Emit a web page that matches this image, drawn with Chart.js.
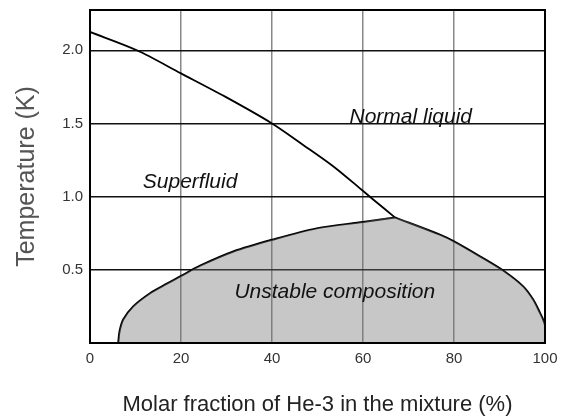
<!DOCTYPE html>
<html lang="en">
<head>
  <meta charset="UTF-8">
  <title>He-3 / He-4 phase diagram</title>
  <script src="https://cdn.jsdelivr.net/npm/chart.js"></script>
  <style>
    body { margin: 0; background: #fff; }
    canvas { display: block; }
  </style>
</head>
<body>
  <canvas id="grafico" width="563" height="419"></canvas>

  <script>
    // lambda line (superfluid / normal boundary)
    const lambdaX = [0, 10.3, 20, 29.7, 40, 47, 53.5, 59.7, 62.3, 67.0];
    const lambdaT = [2.125, 2.0, 1.842, 1.683, 1.5, 1.35, 1.206, 1.047, 0.979, 0.858];

    // phase separation curve, He-4 rich side (left) and He-3 rich side (right)
    const sepLeftX = [6.2, 6.5, 7.3, 9.5, 13.2, 16.9, 20, 24.2, 31.5, 40, 49.8, 60, 67.0];
    const sepLeftT = [0, 0.08, 0.16, 0.25, 0.34, 0.405, 0.458, 0.528, 0.625, 0.705, 0.783, 0.827, 0.858];
    const sepRightX = [67.0, 76.9, 80, 85.7, 90.8, 95.2, 97.4, 98.9, 99.6, 100, 100];
    const sepRightT = [0.858, 0.74, 0.694, 0.592, 0.495, 0.387, 0.297, 0.206, 0.16, 0.12, 0];

    const xTicks = [0, 20, 40, 60, 80, 100];
    const yTicks = [0.5, 1.0, 1.5, 2.0];

    const labelText = ['Superfluid', 'Normal liquid', 'Unstable composition'];
    const labelX = [22, 70.5, 53.8];
    const labelT = [1.10, 1.545, 0.344];

    const fuente = '"Liberation Sans", Arial, Helvetica, sans-serif';

    const etiquetas = {
      id: 'etiquetas',
      afterDatasetsDraw(chart) {
        const { ctx, chartArea, scales } = chart;
        ctx.save();
        ctx.font = 'italic 21px ' + fuente;
        ctx.fillStyle = '#111';
        ctx.textAlign = 'center';
        ctx.textBaseline = 'middle';
        labelText.forEach((t, i) => {
          ctx.fillText(t, scales.x.getPixelForValue(labelX[i]), scales.y.getPixelForValue(labelT[i]));
        });
        // marco
        ctx.strokeStyle = '#000';
        ctx.lineWidth = 2;
        ctx.strokeRect(chartArea.left, chartArea.top, chartArea.right - chartArea.left, chartArea.bottom - chartArea.top);
        ctx.restore();
      }
    };

    const curva = (xs, ts, extra) => Object.assign({
      data: xs.map((x, i) => ({ x: x, y: ts[i] })),
      showLine: true,
      borderColor: '#000',
      borderWidth: 2,
      pointRadius: 0,
      tension: 0.3,
      fill: false
    }, extra);

    const ctx = document.getElementById('grafico').getContext('2d');
    new Chart(ctx, {
      type: 'scatter',
      data: {
        datasets: [
          curva(sepLeftX.concat(sepRightX.slice(1)), sepLeftT.concat(sepRightT.slice(1)), {
            label: 'Unstable composition', fill: 'origin', borderWidth: 0,
            borderColor: 'rgba(0,0,0,0)', backgroundColor: 'rgba(115,115,115,0.4)', tension: 0.2
          }),
          curva(sepLeftX, sepLeftT, { label: 'Separation (left)' }),
          curva(sepRightX, sepRightT, { label: 'Separation (right)' }),
          curva(lambdaX, lambdaT, { label: 'Lambda line', borderWidth: 1.8 })
        ]
      },
      options: {
        responsive: false,
        animation: false,
        layout: { padding: { top: 10, right: 18, left: 0, bottom: 0 } },
        plugins: { legend: { display: false }, tooltip: { enabled: false } },
        scales: {
          x: {
            type: 'linear',
            min: 0,
            max: 100,
            afterBuildTicks: s => { s.ticks = xTicks.map(v => ({ value: v })); },
            afterFit: s => { s.height = 76; s.paddingLeft = 0; s.paddingRight = 0; },
            border: { display: false },
            grid: { color: '#888', lineWidth: 1.5, drawTicks: false },
            ticks: { padding: 7, color: '#333', font: { family: fuente, size: 15 } },
            title: {
              display: true,
              text: 'Molar fraction of He-3 in the mixture (%)',
              color: '#222',
              font: { family: fuente, size: 22 },
              padding: { top: 0, bottom: 1 }
            }
          },
          y: {
            min: 0,
            max: 2.275,
            afterBuildTicks: s => { s.ticks = yTicks.map(v => ({ value: v })); },
            afterFit: s => { s.width = 90; s.paddingTop = 0; s.paddingBottom = 0; },
            border: { display: false },
            grid: { color: '#111', lineWidth: 1.5, drawTicks: false },
            ticks: { padding: 7, color: '#333', font: { family: fuente, size: 15 }, callback: v => v.toFixed(1) },
            title: {
              display: true,
              text: 'Temperature (K)',
              color: '#555',
              font: { family: fuente, size: 25 },
              padding: { top: 12, bottom: 0 }
            }
          }
        }
      },
      plugins: [etiquetas]
    });
  </script>
</body>
</html>
